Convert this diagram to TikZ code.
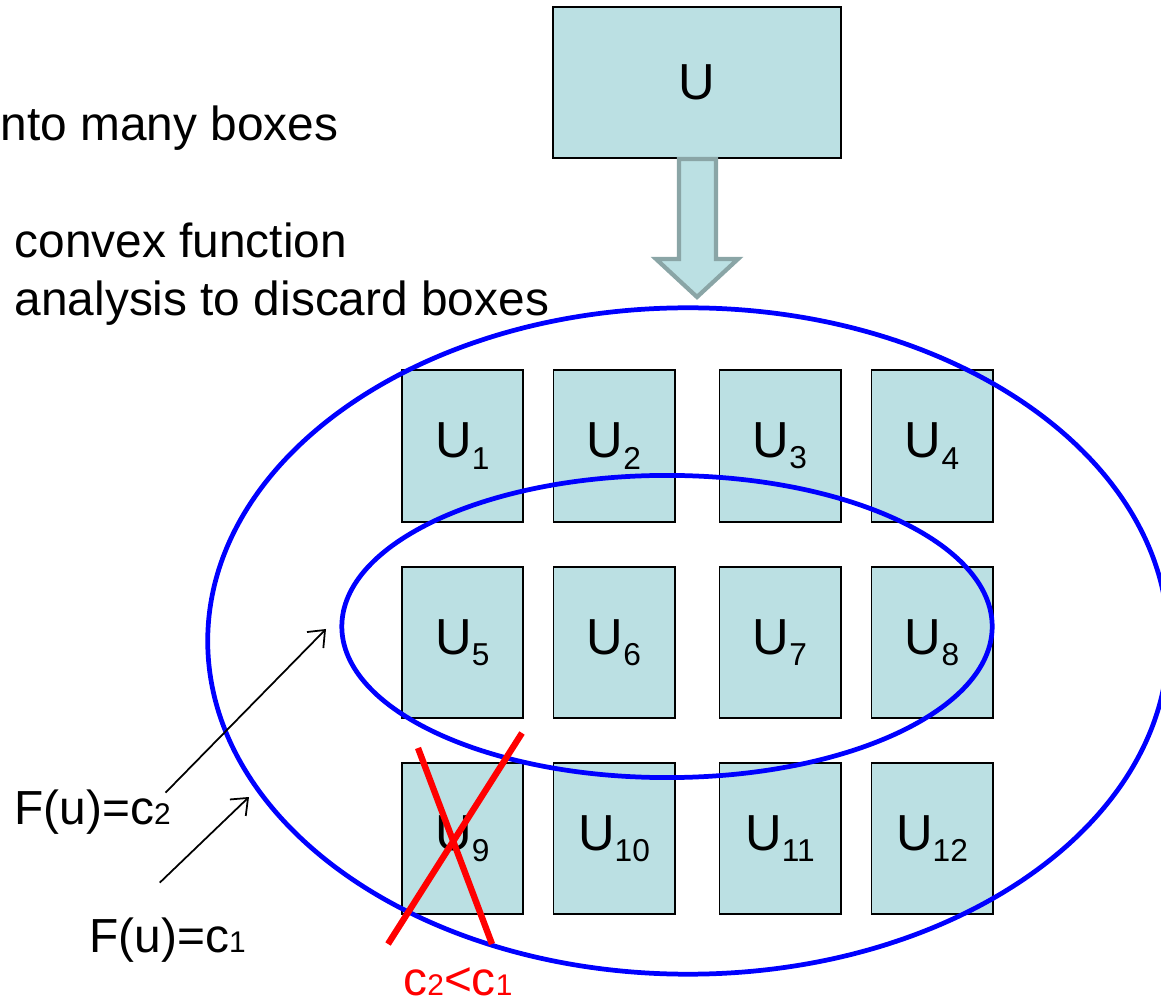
\documentclass[tikz,border=0pt]{standalone}
\usepackage{fontspec}
\setmainfont{Liberation Sans}
\usepackage{tikz}
\usetikzlibrary{arrows.meta, positioning, calc}

\definecolor{cellfill}{RGB}{187,224,227}
\definecolor{arrowgray}{RGB}{138,165,166}
\definecolor{levelblue}{RGB}{0,0,255}

% box label with a lowered index, level value with a small index
\newcommand{\cellname}[1]{U\raisebox{-3.2pt}{\fontsize{9}{10}\selectfont #1}}
\newcommand{\levelc}[1]{c{\fontsize{8.5}{9}\selectfont #1}}

\begin{document}
\begin{tikzpicture}[
    x=0.01cm, y=-0.01cm,
    cell/.style={rectangle, draw, line width=0.55pt, fill=cellfill, minimum width=1.21cm, minimum height=1.51cm, inner sep=0pt, font=\fontsize{14.4}{17}\selectfont},
    whole/.style={cell, minimum width=2.88cm},
    txt/.style={anchor=base west, inner sep=0pt, font=\fontsize{13.6}{16}\selectfont},
    level/.style={levelblue, line width=1.35pt},
    pointer/.style={-{Straight Barb[length=4pt, width=6.5pt]}, line width=0.5pt},
    blockarrow/.style={draw=arrowgray, fill=cellfill, line width=1.2pt, miter limit=10},
    cross/.style={red, line width=1.8pt}
]
\useasboundingbox (0,0) rectangle (1161,1004);

% text on the left
\node[txt] (line1) at (0,141) {nto many boxes};
\node[txt] (line2) at (14,258) {convex function};
\node[txt] (line3) at (14,316) {analysis to discard boxes};

% the original box
\node[whole] (U) at (697,82.5) {U};

% split arrow
\path[blockarrow] ($(U.south)+(-18,0)$) -- ($(U.south)+(19,0)$) -- ++(0,100)
    -- ++(22,0) -- ($(U.south)+(0,138)$) -- ($(U.south)+(-41,100)$) -- ++(23,0) -- cycle;

% row 1
\node[cell] (u1) at (462.5,446) {\cellname{1}};
\node[cell] (u2) at (614,446) {\cellname{2}};
\node[cell] (u3) at (780,446) {\cellname{3}};
\node[cell] (u4) at (932,446) {\cellname{4}};
% row 2
\node[cell] (u5) at (462.5,642.5) {\cellname{5}};
\node[cell] (u6) at (614,642.5) {\cellname{6}};
\node[cell] (u7) at (780,642.5) {\cellname{7}};
\node[cell] (u8) at (932,642.5) {\cellname{8}};
% row 3
\node[cell] (u9) at (462.5,838.5) {\cellname{9}};
\node[cell] (u10) at (614,838.5) {\cellname{10}};
\node[cell] (u11) at (780,838.5) {\cellname{11}};
\node[cell] (u12) at (932,838.5) {\cellname{12}};

% level sets
\draw[level] (688,641) ellipse [x radius=4.8cm, y radius=3.33cm];
\draw[level] (667,626.5) ellipse [x radius=3.25cm, y radius=1.51cm];

% discarded box
\draw[cross] (418,748) -- (492,944);
\draw[cross] (388,944) -- (522,733);
\node[txt, anchor=base, red] (order) at (458,995) {\levelc{2}<\levelc{1}};

% level labels
\node[txt] (lvl2) at (14,824) {F(u)=\levelc{2}};
\node[txt] (lvl1) at (89,952) {F(u)=\levelc{1}};
\coordinate (tip2) at (326,629);
\coordinate (tip1) at (249,797);
\draw[pointer] ($(lvl2.north east)+(-6,4)$) -- (tip2);
\draw[pointer] ($(lvl1.north)+(-8,-34)$) -- (tip1);

\end{tikzpicture}
\end{document}
